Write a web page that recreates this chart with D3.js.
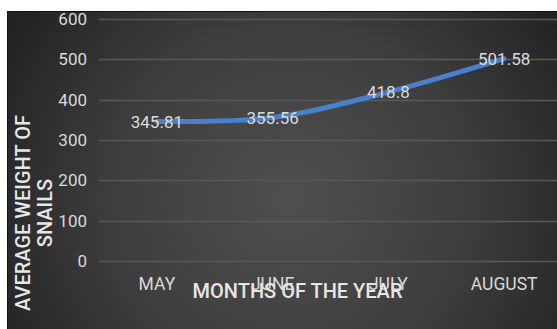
<!DOCTYPE html>
<html>
<head>
<meta charset="utf-8">
<script src="https://cdn.jsdelivr.net/npm/d3@7"></script>
<style>
  html, body { margin: 0; padding: 0; background: #ffffff; }
  svg { display: block; }
  text { font-family: Roboto, "Noto Sans", sans-serif; }
</style>
</head>
<body>
<svg id="chart" width="557" height="329"></svg>
<script>
// Average snail weight per month
const months = ["MAY", "JUNE", "JULY", "AUGUST"];
const avgWeight = [345.81, 355.56, 418.8, 501.58];
const yTicks = [0, 100, 200, 300, 400, 500, 600];
const yTitleLines = ["AVERAGE WEIGHT OF", "SNAILS"];
const xTitle = "MONTHS OF THE YEAR";

const svg = d3.select("#chart");
const W = 557, H = 329;

// Dark panel with a soft radial glow
const defs = svg.append("defs");
const grad = defs.append("radialGradient")
  .attr("id", "panelGlow")
  .attr("gradientUnits", "userSpaceOnUse")
  .attr("cx", 290).attr("cy", 200).attr("r", 330);
grad.append("stop").attr("offset", "0%").attr("stop-color", "#4f4f4f");
grad.append("stop").attr("offset", "55%").attr("stop-color", "#3d3d3d");
grad.append("stop").attr("offset", "100%").attr("stop-color", "#222222");

svg.append("rect")
  .attr("x", 7).attr("y", 11)
  .attr("width", W - 7).attr("height", H - 11)
  .attr("fill", "url(#panelGlow)");
svg.append("path")
  .attr("d", `M7.5,${H}V11.5H${W}`)
  .attr("fill", "none")
  .attr("stroke", "#111")
  .attr("stroke-width", 1);

const x = d3.scaleBand().domain(months).range([99, 562]);
const y = d3.scaleLinear().domain([0, 600]).range([261, 19]);

// Horizontal gridlines
svg.append("g")
  .selectAll("line")
  .data(yTicks)
  .join("line")
  .attr("x1", 99).attr("x2", W)
  .attr("y1", d => Math.round(y(d)) + 0.5)
  .attr("y2", d => Math.round(y(d)) + 0.5)
  .attr("stroke", "#585858")
  .attr("stroke-width", 1.5);

// Y axis tick labels
const yAxis = d3.axisLeft(y).tickValues(yTicks).tickSize(0).tickPadding(0);
const gy = svg.append("g").attr("transform", "translate(87,0)").call(yAxis);
gy.select(".domain").remove();
gy.selectAll("text")
  .attr("fill", "#d9d9d9")
  .attr("font-size", 17)
  .attr("font-family", "Roboto, sans-serif");

// X axis category labels
const xAxis = d3.axisBottom(x).tickSize(0).tickPadding(0);
const gx = svg.append("g").attr("transform", "translate(0,277.5)").call(xAxis);
gx.select(".domain").remove();
gx.selectAll("text")
  .attr("fill", "#d9d9d9")
  .attr("font-size", 17.5)
  .attr("font-family", "Roboto, sans-serif");

// Weight line (smoothed)
const line = d3.line()
  .x((d, i) => x(months[i]) + x.bandwidth() / 2)
  .y(d => y(d))
  .curve(d3.curveCatmullRom.alpha(0));

svg.append("path")
  .datum(avgWeight)
  .attr("d", line)
  .attr("fill", "none")
  .attr("stroke", "#4a7fcb")
  .attr("stroke-width", 5)
  .attr("stroke-linecap", "round")
  .attr("stroke-linejoin", "round");

// Value labels centred on each point
svg.append("g")
  .selectAll("text")
  .data(avgWeight)
  .join("text")
  .attr("x", (d, i) => x(months[i]) + x.bandwidth() / 2)
  .attr("y", d => y(d))
  .attr("dy", "0.36em")
  .attr("text-anchor", "middle")
  .attr("fill", "#dcdcdc")
  .attr("font-size", 17)
  .text(d => d);

// Axis titles
const yTitle = svg.append("text")
  .attr("transform", "translate(0,213) rotate(-90)")
  .attr("text-anchor", "middle")
  .attr("fill", "#e6e6e6")
  .attr("font-size", 20)
  .attr("font-weight", 500);
yTitleLines.forEach((t, i) => {
  yTitle.append("tspan")
    .attr("x", 0)
    .attr("y", 29.5 + i * 22)
    .text(t);
});

svg.append("text")
  .attr("x", 297.5)
  .attr("y", 297.5)
  .attr("text-anchor", "middle")
  .attr("fill", "#e6e6e6")
  .attr("font-size", 20)
  .attr("font-weight", 500)
  .text(xTitle);
</script>
</body>
</html>
